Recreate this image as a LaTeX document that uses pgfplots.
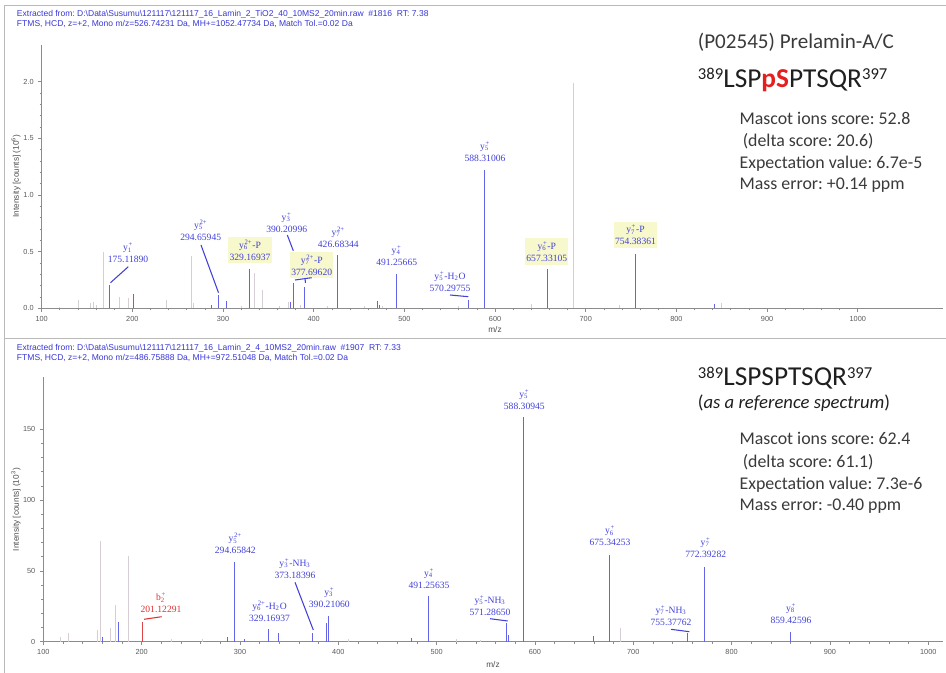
\documentclass[border=0pt]{standalone}
\usepackage{pgfplots}
\pgfplotsset{compat=1.18}
\usepackage{fontspec}
\setmainfont{Liberation Serif}
\newfontfamily\arial{Liberation Sans}
\newfontfamily\calibri{Carlito}
\frenchspacing
\definecolor{pkblue}{RGB}{100,100,232}
\definecolor{labblue}{RGB}{65,65,218}
\definecolor{pkgray}{RGB}{214,206,212}
\definecolor{pkred}{RGB}{225,70,70}
\definecolor{labred}{RGB}{220,50,50}
\definecolor{hdrblue}{RGB}{55,55,215}
\definecolor{boxyel}{RGB}{248,248,205}
\definecolor{txtgray}{RGB}{58,58,58}
\definecolor{axgray}{RGB}{140,140,140}
\definecolor{framegray}{RGB}{185,185,185}
\definecolor{pred}{RGB}{230,30,30}
\newcommand{\io}[3]{#1\textsubscript{\rlap{#2}}\textsuperscript{#3}}
\newcommand{\sq}[1]{\raisebox{5.5pt}{\fontsize{12.5}{12.5}\selectfont #1}}
\pgfplotsset{
  spec/.style={
    scale only axis, axis lines*=left,
    axis line style={-, draw=axgray, line width=0.6pt},
    tick align=outside, major tick length=2.5pt, minor tick length=1.5pt,
    tick style={draw=axgray, line width=0.5pt},
    tick label style={font=\arial\fontsize{5.5}{6}\selectfont, text=black!65},
    /pgf/number format/assume math mode=true,
    xmin=100, xtick={100,200,...,1000}, minor x tick num=4, ymin=0,
    scaled y ticks=false, scaled x ticks=false,
    x tick label style={/pgf/number format/1000 sep={}},
  },
  pk/.style={ycomb, no marks, line width=0.6pt},
}
\begin{document}
\begin{tikzpicture}
% ---------- top spectrum ----------
\begin{axis}[spec, at={(31.25pt,-231.23pt)}, anchor=south west,
  width=676pt, height=197.5pt, xmax=1094, ymax=2.324,
  ytick={0,0.5,1,1.5,2}, minor y tick num=4,
  y tick label style={/pgf/number format/fixed, /pgf/number format/fixed zerofill, /pgf/number format/precision=1}]
\addplot[pk, pkgray] coordinates {(120,0.012) (140,0.07) (154,0.05) (157,0.06) (160,0.03) (168.2,0.5) (185.6,0.1) (195.6,0.09) (238,0.07) (265.4,0.46) (267.5,0.05) (320,0.02) (335,0.31) (343.7,0.16) (362,0.02) (372,0.06) (385,0.03) (415,0.02) (456,0.02) (476,0.02) (560,0.02) (640,0.04) (686.4,1.99) (737,0.03) (850,0.05)};
\addplot[pk, pkblue] coordinates {(175.1189,0.206) (287,0.03) (294.659,0.12) (303.9,0.065) (329.169,0.35) (374,0.06) (377.696,0.226) (390.21,0.19) (426.683,0.47) (470.6,0.065) (472.5,0.03) (491.257,0.30) (570.298,0.075) (588.31,1.22) (657.331,0.344) (754.384,0.48) (841.6,0.04)};
\addplot[pk, pkred] coordinates {(201.1,0.124)};
\end{axis}
% ---------- bottom spectrum ----------
\begin{axis}[spec, at={(32.5pt,-481.25pt)}, anchor=south west,
  width=674.75pt, height=198.5pt, xmax=1015, ymax=187,
  ytick={0,50,100,150}, minor y tick num=4]
\addplot[pk, pkgray] coordinates {(117,3) (125.4,6) (155,8) (158.3,71.3) (167.8,10) (173.6,26) (186.4,60.5) (230,2) (262,2) (410,2) (520,2) (545,1.5) (686.8,10)};
\addplot[pk, pkblue] coordinates {(160,3) (175.9,14.1) (287,3.5) (294.658,56) (304,2) (329.169,8.7) (339.3,5.9) (373.184,6.4) (387.5,13) (390.211,18) (474.6,2.5) (491.256,32.3) (571.287,13) (573,5) (588.309,159) (659,4) (675.343,61.2) (755.378,5.9) (772.393,53) (859.426,7)};
\addplot[pk, pkred] coordinates {(201.123,14.1)};
\end{axis}
% ---------- annotations (pixel coordinates) ----------
\begin{scope}[x=0.75pt, y=-0.75pt,
  lab/.style={align=center, font=\fontsize{7.2}{9}\selectfont, text=labblue, inner sep=0.5pt},
  ylab/.style={lab, fill=boxyel, minimum width=32.5pt, minimum height=20pt},
  hdr/.style={anchor=base west, inner sep=0, font=\arial\fontsize{6.4}{7.5}\selectfont, text=hdrblue},
  info/.style={anchor=base west, inner sep=0, font=\calibri\fontsize{13.4}{16}\selectfont, text=txtgray},
  axl/.style={font=\arial\fontsize{6.2}{7}\selectfont, text=black!70, inner sep=0},
  ldr/.style={labblue, line width=0.8pt}]
\draw[framegray, line width=0.75pt] (4,673) -- (4,6) -- (946,6);
\draw[framegray, line width=0.75pt] (4,339) -- (946,339);
% headers
\node[hdr] at (16.7,17) {Extracted from: D:\textbackslash Data\textbackslash Susumu\textbackslash 121117\textbackslash 121117\_16\_Lamin\_2\_TiO2\_40\_10MS2\_20min.raw\ \ \#1816\ \ RT: 7.38};
\node[hdr] at (16.7,27) {FTMS, HCD, z=+2, Mono m/z=526.74231 Da, MH+=1052.47734 Da, Match Tol.=0.02 Da};
\node[hdr] at (16.7,351) {Extracted from: D:\textbackslash Data\textbackslash Susumu\textbackslash 121117\textbackslash 121117\_16\_Lamin\_2\_4\_10MS2\_20min.raw\ \ \#1907\ \ RT: 7.33};
\node[hdr] at (16.7,361) {FTMS, HCD, z=+2, Mono m/z=486.75888 Da, MH+=972.51048 Da, Match Tol.=0.02 Da};
% axis labels
\node[axl, rotate=90] at (16,176) {Intensity [counts] (10\textsuperscript{6})};
\node[axl, rotate=90] at (16,509.7) {Intensity [counts] (10\textsuperscript{3})};
\node[axl] at (495,330) {m/z};
\node[axl] at (493,665) {m/z};
% right texts top
\node[anchor=base west, inner sep=0, font=\calibri\fontsize{15.8}{18}\selectfont, text=txtgray] at (697.7,48.3) {(P02545) Prelamin-A/C};
\node[anchor=base west, inner sep=0, font=\calibri\fontsize{20.5}{24}\selectfont, text=black!88] at (697.7,87.3) {\sq{389}LSP\textcolor{pred}{\textbf{pS}}PTSQR\sq{397}};
\node[info] at (739.3,125) {Mascot ions score: 52.8};
\node[info] at (742.5,146.7) {(delta score: 20.6)};
\node[info] at (739.3,168.3) {Expectation value: 6.7e-5};
\node[info] at (739.3,189.3) {Mass error: +0.14 ppm};
% right texts bottom
\node[anchor=base west, inner sep=0, font=\calibri\fontsize{20.5}{24}\selectfont, text=black!88] at (697.7,386) {\sq{389}LSPSPTSQR\sq{397}};
\node[anchor=base west, inner sep=0, font=\calibri\fontsize{14}{16}\selectfont, text=black!88] at (697.7,408.3) {(\textit{as a reference spectrum})};
\node[info] at (739.3,445) {Mascot ions score: 62.4};
\node[info] at (742.5,467.3) {(delta score: 61.1)};
\node[info] at (739.3,489) {Expectation value: 7.3e-6};
\node[info] at (739.3,510) {Mass error: -0.40 ppm};
% top peak labels
\node[lab] at (128,253) {\io{y}{1}{+}\\175.11890};
\node[lab] at (200.7,230.3) {\io{y}{5}{2+}\\294.65945};
\node[ylab] at (250,250) {\io{y}{6}{2+}-P\\329.16937};
\node[lab] at (286.7,222.5) {\io{y}{3}{+}\\390.20996};
\node[ylab] at (311.7,265) {\io{y}{7}{2+}-P\\377.69620};
\node[lab] at (338.3,237.2) {\io{y}{7}{2+}\\426.68344};
\node[lab] at (396.7,255.8) {\io{y}{4}{+}\\491.25665};
\node[lab] at (450,281.2) {\io{y}{5}{+}-H\textsubscript{2}O\\570.29755};
\node[lab] at (485,151.5) {\io{y}{5}{+}\\588.31006};
\node[ylab] at (546.8,251.2) {\io{y}{6}{+}-P\\657.33105};
\node[ylab] at (635.5,235) {\io{y}{7}{+}-P\\754.38361};
\draw[ldr] (128.3,266.7) -- (110.5,282.7);
\draw[ldr] (201,245) -- (218.5,292.7);
\draw[ldr] (287.3,235) -- (293.3,250.7);
\draw[ldr] (295,280) -- (311.7,277.7);
\draw[ldr] (305,278.7) -- (305.5,283);
\draw[ldr] (450,295) -- (468.3,296.7);
% bottom peak labels
\node[lab, text=labred] at (161,603) {\io{b}{2}{+}\\201.12291};
\node[lab] at (235.3,543.8) {\io{y}{5}{2+}\\294.65842};
\node[lab] at (269.5,611.2) {\io{y}{6}{2+}-H\textsubscript{2}O\\329.16937};
\node[lab] at (295,568.3) {\io{y}{3}{+}-NH\textsubscript{3}\\373.18396};
\node[lab] at (329.3,597.8) {\io{y}{3}{+}\\390.21060};
\node[lab] at (429,578.3) {\io{y}{4}{+}\\491.25635};
\node[lab] at (490,605.3) {\io{y}{5}{+}-NH\textsubscript{3}\\571.28650};
\node[lab] at (524.3,399.2) {\io{y}{5}{+}\\588.30945};
\node[lab] at (610,536) {\io{y}{6}{+}\\675.34253};
\node[lab] at (671,615.5) {\io{y}{7}{+}-NH\textsubscript{3}\\755.37762};
\node[lab] at (705.7,547.8) {\io{y}{7}{+}\\772.39282};
\node[lab] at (791,613.5) {\io{y}{8}{+}\\859.42596};
\draw[labred, line width=0.8pt] (144,619.3) -- (161.7,616.7);
\draw[ldr] (295,582.3) -- (313.3,630);
\draw[ldr] (490,618.7) -- (507.7,621);
\draw[ldr] (671,629.3) -- (689.3,631.7);
\end{scope}
\pgfresetboundingbox
\path (0,0) rectangle (709.5pt,-504.75pt);
\end{tikzpicture}
\end{document}
